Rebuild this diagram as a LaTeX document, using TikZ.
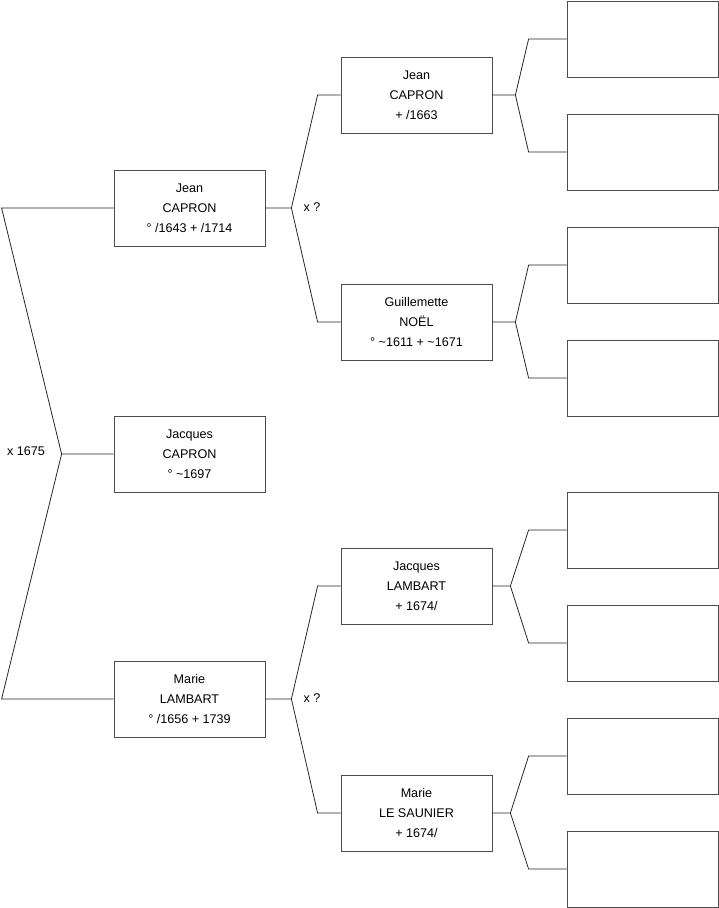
\documentclass[tikz,border=0pt]{standalone}
\usepackage{fontspec}
\setmainfont{Liberation Sans}
\usepackage{tikz}
\usetikzlibrary{calc}

\begin{document}
\begin{tikzpicture}[x=1pt,y=-1pt,
    person/.style={draw=black!70,line width=0.8pt,minimum width=151pt,minimum height=76pt,
      inner sep=0pt,align=center,font=\fontsize{12.6}{20}\selectfont},
    link/.style={draw=black!85,line width=0.8pt},
    marriage/.style={font=\fontsize{12.6}{14}\selectfont}]
    \useasboundingbox (0,0) rectangle (719,908);
    % generation 1
    \node[person] (jean) at (189.5,208){Jean\\CAPRON\\° /1643 + /1714};
    \node[person] (jacques) at (189.5,454){Jacques\\CAPRON\\° \textasciitilde1697};
    \node[person] (marie) at (189.5,699){Marie\\LAMBART\\° /1656 + 1739};
    % generation 2
    \node[person] (jeanF) at (416.5,95){Jean\\CAPRON\\+ /1663};
    \node[person] (guill) at (416.5,322){Guillemette\\NOËL\\° \textasciitilde1611 + \textasciitilde1671};
    \node[person] (jacquesL) at (416.5,586){Jacques\\LAMBART\\+ 1674/};
    \node[person] (marieLS) at (416.5,813){Marie\\LE SAUNIER\\+ 1674/};
    % generation 3 (empty)
    \foreach \n/\y in {a1/39,a2/152,a3/265,a4/378,a5/530,a6/643,a7/756,a8/869}
      \node[person] (\n) at (642.5,\y){};

    \node[marriage] (wed1) at (26,451){x 1675};
    \node[marriage] (wed2) at (312,207){x ?};
    \node[marriage] (wed3) at (312,698){x ?};

    \draw[link] (jean.west) -- ++(-112,0) -- ([xshift=-52pt]jacques.west) coordinate (f0) -- (jacques.west);
    \draw[link] (marie.west) -- ++(-112,0) -- (f0);

    \draw[link] (jean.east) -- ++(26,0) coordinate (f1) -- ([xshift=-23pt]jeanF.west) -- (jeanF.west);
    \draw[link] (f1) -- ([xshift=-23pt]guill.west) -- (guill.west);
    \draw[link] (marie.east) -- ++(26,0) coordinate (f2) -- ([xshift=-23pt]jacquesL.west) -- (jacquesL.west);
    \draw[link] (f2) -- ([xshift=-23pt]marieLS.west) -- (marieLS.west);

    \draw[link] (jeanF.east) -- ++(23,0) coordinate (g1) -- ([xshift=-38pt]a1.west) -- (a1.west);
    \draw[link] (g1) -- ([xshift=-38pt]a2.west) -- (a2.west);
    \draw[link] (guill.east) -- ++(23,0) coordinate (g2) -- ([xshift=-38pt]a3.west) -- (a3.west);
    \draw[link] (g2) -- ([xshift=-38pt]a4.west) -- (a4.west);
    \draw[link] (jacquesL.east) -- ++(18,0) coordinate (g3) -- ([xshift=-38pt]a5.west) -- (a5.west);
    \draw[link] (g3) -- ([xshift=-38pt]a6.west) -- (a6.west);
    \draw[link] (marieLS.east) -- ++(18,0) coordinate (g4) -- ([xshift=-38pt]a7.west) -- (a7.west);
    \draw[link] (g4) -- ([xshift=-38pt]a8.west) -- (a8.west);
\end{tikzpicture}
\end{document}
